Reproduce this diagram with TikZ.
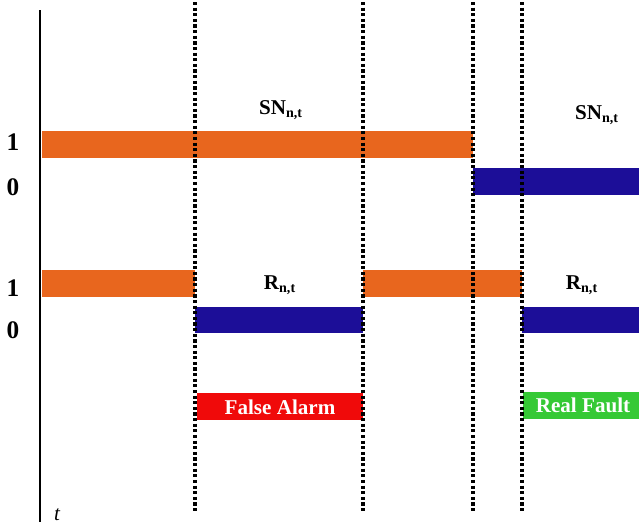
\documentclass[tikz,border=0pt]{standalone}
\usepackage{fontspec}
\setmainfont{Liberation Serif}
\definecolor{barorange}{HTML}{E8661E}
\definecolor{barblue}{HTML}{1C0E98}
\definecolor{alarmred}{HTML}{F00A0A}
\definecolor{faultgreen}{HTML}{35C935}
\begin{document}
\begin{tikzpicture}[x=0.02cm,y=-0.02cm]
            \tikzstyle{high}=[fill=barorange]
            \tikzstyle{low}=[fill=barblue]
            \tikzstyle{level}=[font=\bfseries\Large]
            \tikzstyle{sig}=[font=\bfseries\large]
            \tikzstyle{sep}=[line width=2pt, dash pattern=on 1.8pt off 1.4pt]
            \tikzstyle{tag}=[font=\bfseries\large, text=white, inner sep=0pt]

            \useasboundingbox (0,0) rectangle (639,525);

            % signal bars
            \fill[high] (42,131) rectangle (473,158);
            \fill[low] (473,168) rectangle (639,195);
            \fill[high] (42,270) rectangle (195,297);
            \fill[low] (195,307) rectangle (363,333);
            \fill[high] (363,270) rectangle (522,297);
            \fill[low] (522,307) rectangle (639,333);

            % result boxes
            \fill[alarmred] (197,393) rectangle (363,420);
            \node[tag] (FA) at (280,407) {False Alarm};
            \fill[faultgreen] (523,392) rectangle (639,419);
            \node[tag] (RF) at (583,405) {Real Fault};

            % separators
            \foreach \x in {195,363,473,522}
                \draw[sep] (\x,2) -- (\x,512);

            % time axis
            \draw[line width=1.7pt] (40,10) -- (40,522);
            \node (T) at (57,515) {\large\itshape t};

            \node[level] (H1) at (13,142) {1};
            \node[level] (L1) at (13,187) {0};
            \node[level] (H2) at (13,288) {1};
            \node[level] (L2) at (13,330) {0};

            \node[sig] (SN1) at (281,110) {SN\textsubscript{n,t}};
            \node[sig] (SN2) at (597,115) {SN\textsubscript{n,t}};
            \node[sig] (R1) at (280,285) {R\textsubscript{n,t}};
            \node[sig] (R2) at (582,285) {R\textsubscript{n,t}};
        \end{tikzpicture}
\end{document}
